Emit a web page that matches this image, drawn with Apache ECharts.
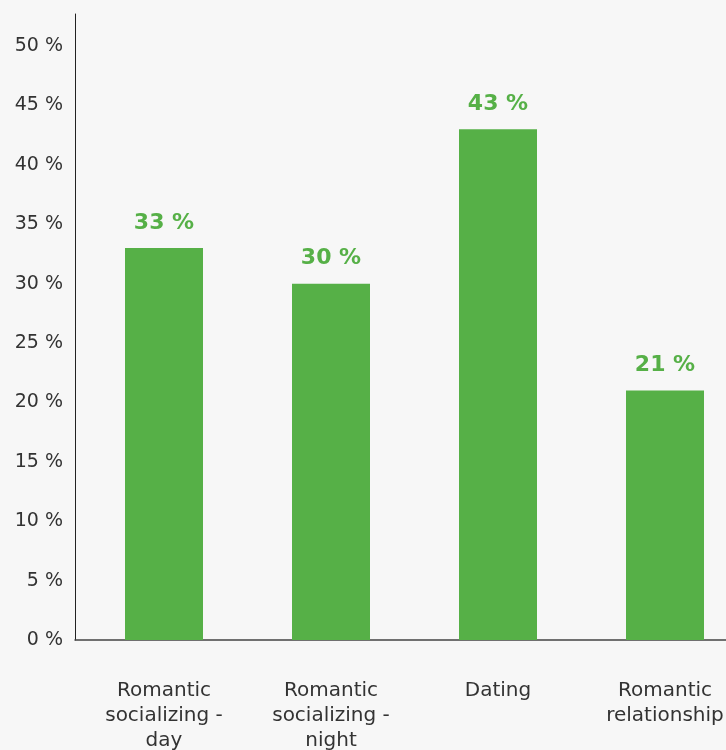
<!DOCTYPE html>
<html>
<head>
<meta charset="utf-8">
<script src="https://cdn.jsdelivr.net/npm/echarts@6/dist/echarts.min.js"></script>
<style>
  html, body { margin: 0; padding: 0; background: #f7f7f7; }
  #chart { width: 726px; height: 750px; }
</style>
</head>
<body>
<div id="chart"></div>
<script>
// Share of respondents per context
const categories = ['Romantic\nsocializing -\nday', 'Romantic\nsocializing -\nnight', 'Dating', 'Romantic\nrelationship'];
const shares = [33, 30, 43, 21];
const yTicks = [0, 5, 10, 15, 20, 25, 30, 35, 40, 45, 50];
const Y_MAX = 52.7;

const FONT = '"DejaVu Sans", Inter, sans-serif';
const GREEN = '#56b047';

const chart = echarts.init(document.getElementById('chart'), null, { renderer: 'canvas' });

chart.setOption({
  backgroundColor: '#f7f7f7',
  animation: false,
  grid: [
    // frame: carries the visible axis lines and the value labels
    { left: 75, top: 14, bottom: 110, width: 673.5, containLabel: false, outerBoundsMode: 'none' },
    // plot: category bands start a little inside the frame
    { left: 80.5, top: 14, bottom: 110, width: 668, containLabel: false, outerBoundsMode: 'none' }
  ],
  xAxis: [
    {
      gridIndex: 0,
      type: 'value',
      min: 0,
      max: 1,
      axisLine: { show: true, onZero: false, lineStyle: { color: '#444', width: 1.5 } },
      axisTick: { show: false },
      axisLabel: { show: false },
      splitLine: { show: false }
    },
    {
      gridIndex: 1,
      type: 'category',
      data: categories,
      axisLine: { show: false },
      axisTick: { show: false },
      axisLabel: {
        color: '#333',
        fontFamily: FONT,
        fontSize: 20,
        lineHeight: 25,
        margin: 38,
        interval: 0
      }
    }
  ],
  yAxis: [
    {
      gridIndex: 0,
      type: 'value',
      min: 0,
      max: Y_MAX,
      interval: 5,
      splitLine: { show: false },
      axisTick: { show: false },
      axisLine: { show: true, lineStyle: { color: '#222', width: 1 } },
      axisLabel: {
        color: '#333',
        fontFamily: FONT,
        fontSize: 19,
        margin: 12,
        showMaxLabel: false,
        formatter: v => (yTicks.includes(v) ? v + ' %' : '')
      }
    },
    {
      gridIndex: 1,
      type: 'value',
      min: 0,
      max: Y_MAX,
      show: false
    }
  ],
  series: [{
    type: 'bar',
    xAxisIndex: 1,
    yAxisIndex: 1,
    data: shares,
    barWidth: 78,
    itemStyle: { color: GREEN },
    label: {
      show: true,
      position: 'top',
      distance: 14,
      color: GREEN,
      fontFamily: FONT,
      fontWeight: 'bold',
      fontSize: 22,
      formatter: p => p.value + ' %'
    }
  }]
});
</script>
</body>
</html>
